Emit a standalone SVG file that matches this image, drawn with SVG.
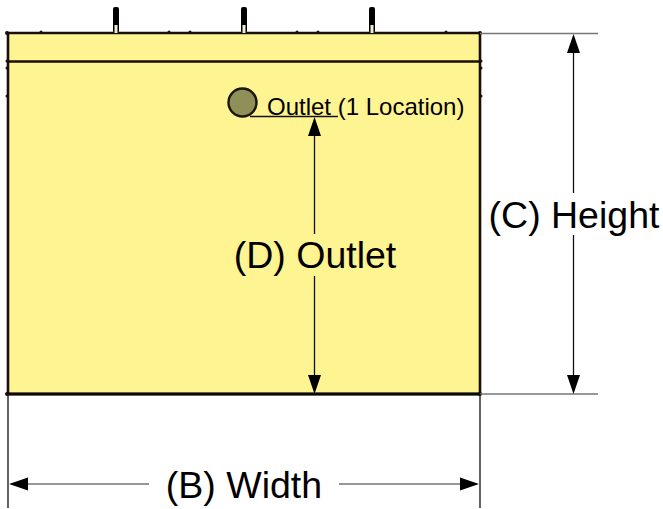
<svg xmlns="http://www.w3.org/2000/svg" width="663" height="509" viewBox="0 0 663 509">
<style>
text{font-family:"Liberation Sans",Arial,sans-serif;fill:#000}
.big{font-size:37.5px;text-anchor:middle}
.thick{stroke:#1a0f08;stroke-width:2.6;fill:none}
.dim{stroke:#777;stroke-width:1.6;fill:none}
.thin{stroke:#111;stroke-width:1.3;fill:none}
.head{fill:#000}
.stud{fill:#000}
.neck{fill:#eeeccc}
.dot{fill:#1a0f08}
</style>
<g id="tank">
<rect x="8" y="33" width="472" height="361" fill="#fff492"/>
<path class="thick" d="M8 33H480V394H8Z"/>
<path class="thick" d="M8 61.500H480"/>
<path d="M8 394H480" stroke="#0c0806" stroke-width="3" fill="none"/>
<circle class="dot" cx="7" cy="33" r="2"/><circle class="dot" cx="41" cy="32" r="1.500"/><circle class="dot" cx="169" cy="32" r="1.500"/><circle class="dot" cx="190" cy="32" r="1.500"/><circle class="dot" cx="297" cy="32" r="1.500"/><circle class="dot" cx="318" cy="32" r="1.500"/><circle class="dot" cx="446" cy="32" r="1.500"/><circle class="dot" cx="480" cy="33" r="2"/>
<circle class="dot" cx="7" cy="61" r="1.500"/><circle class="dot" cx="7" cy="68" r="1.500"/><circle class="dot" cx="7" cy="96" r="1.500"/><circle class="dot" cx="481" cy="61" r="1.500"/><circle class="dot" cx="481" cy="68" r="1.500"/><circle class="dot" cx="481" cy="96" r="1.500"/><circle class="dot" cx="7" cy="394" r="2"/><circle class="dot" cx="480" cy="394" r="2"/>
</g>
<g id="fitting-1"><rect class="stud" x="113" y="7" width="6" height="26" rx="2"/><rect class="neck" x="114.500" y="25" width="3" height="8"/></g>
<g id="fitting-2"><rect class="stud" x="241" y="7" width="6" height="26" rx="2"/><rect class="neck" x="242.500" y="25" width="3" height="8"/></g>
<g id="fitting-3"><rect class="stud" x="369" y="7" width="6" height="26" rx="2"/><rect class="neck" x="370.500" y="25" width="3" height="8"/></g>
<g id="outlet">
<circle cx="242.500" cy="102.500" r="14" fill="#8f8f58" stroke="#1c1608" stroke-width="2.400"/>
<text x="267" y="115" font-size="24">Outlet (1 Location)</text>
</g>
<g id="connectors">
<path class="thin" d="M250 116.500H338"/>
<path class="dim" d="M480 33.500H598M480 394H598M28 484H149M339 484H462"/>
<path class="thin" d="M8 394V508M480 394V508M573.500 50V193M573.500 235V378M314.500 135V234M314.500 276V378"/>
<path class="head" d="M573.500 34L580 53H567ZM573.500 394L580 375H567ZM314.500 117L321 136H308ZM314.500 394L321 375H308ZM9 484L28 477.500V490.500ZM479 484L460 477.500V490.500Z"/>
</g>
<g id="labels">
<text class="big" x="315" y="268">(D) Outlet</text>
<text class="big" x="574" y="228">(C) Height</text>
<text class="big" x="244" y="497.500">(B) Width</text>
</g>
</svg>
